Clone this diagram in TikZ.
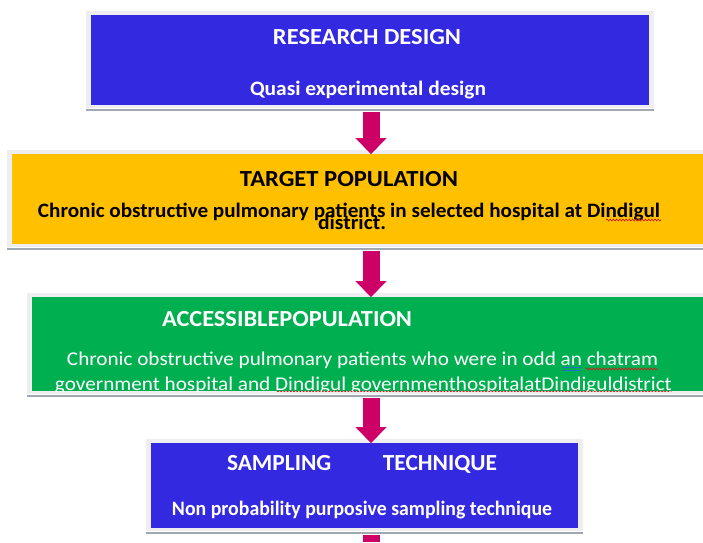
\documentclass[tikz,border=0pt]{standalone}
\usepackage{fontspec}
\setmainfont{Carlito}
\usetikzlibrary{arrows.meta,backgrounds,decorations.pathmorphing}
\definecolor{deepblue}{RGB}{51,41,224}
\definecolor{amber}{RGB}{255,192,0}
\definecolor{leaf}{RGB}{0,176,80}
\definecolor{berry}{RGB}{204,0,102}
\definecolor{framegray}{RGB}{238,238,240}
\definecolor{shadowgray}{RGB}{160,168,178}
\definecolor{spellred}{RGB}{210,30,30}
\definecolor{grammarblue}{RGB}{40,110,200}
% squeeze or stretch a line of text to a given width, keeping its height
\newcommand{\fitw}[2]{\resizebox{#1}{\height}{#2}}

\begin{document}
\begin{tikzpicture}[x=1pt,y=-1pt,
  panel/.style={draw=none, inner sep=0pt, outer sep=0pt},
  lbl/.style={inner sep=0pt, anchor=base},
  headfont/.style={font=\bfseries\fontsize{23}{26}\selectfont},
  bodyfont/.style={font=\bfseries\fontsize{20.5}{24}\selectfont},
  plainfont/.style={font=\fontsize{19.5}{23}\selectfont},
  flow/.style={draw=berry, line width=17pt,
    -{Triangle[width=31pt,length=16pt,line width=0.1pt]}},
  tailflow/.style={draw=berry, line width=17pt},
  spell/.style={draw=spellred, line width=0.7pt, decorate,
    decoration={snake, segment length=3.2pt, amplitude=0.9pt}},
]
\useasboundingbox (0,0) rectangle (703,542);

% coloured panels
\node[panel, fill=deepblue, minimum width=558pt, minimum height=90pt] (rd) at (370,60) {};
\node[panel, fill=amber, minimum width=716pt, minimum height=90pt] (tp) at (370,199) {};
\node[panel, fill=leaf, minimum width=676pt, minimum height=94pt] (ap) at (370,344) {};
\node[panel, fill=deepblue, minimum width=427pt, minimum height=85pt] (st) at (364.5,485.5) {};

% light frame and grey bottom edge behind each panel
\begin{scope}[on background layer]
  \foreach \b in {rd,tp,ap,st}{
    \fill[framegray] ([shift={(-5,-4)}]\b.north west) rectangle ([shift={(5,3)}]\b.south east);
    \draw[shadowgray, line width=2.5pt] ([shift={(-5,5)}]\b.south west) -- ([shift={(5,5)}]\b.south east);
  }
\end{scope}

% research design
\node[lbl, headfont, text=white] (rdT) at (367,44) {\fitw{188pt}{RESEARCH DESIGN}};
\node[lbl, bodyfont, text=white] (rdB) at (368,95) {\fitw{236pt}{Quasi experimental design}};

% target population
\node[lbl, headfont, text=black] (tpT) at (349,186) {\fitw{218pt}{TARGET POPULATION}};
\node[lbl, bodyfont, text=black] (tpB) at (349,217)
  {\fitw{622pt}{Chronic obstructive pulmonary patients in selected hospital at Dindigul}};
\node[lbl, bodyfont, text=black] (tpC) at (352,229) {\fitw{68pt}{district.}};
\draw[spell] (606,220) -- (661,220);

% accessible population (second line runs past the lower edge)
\node[lbl, headfont, text=white] (apT) at (287,326) {\fitw{250pt}{ACCESSIBLEPOPULATION}};
\begin{scope}
  \clip (ap.north west) rectangle (ap.south east);
  \node[lbl, plainfont, text=white] (apB1) at (362.5,365)
    {\fitw{591pt}{Chronic obstructive pulmonary patients who were in odd an chatram}};
  \node[lbl, plainfont, text=white] (apB2) at (363.5,390)
    {\fitw{617pt}{government hospital and Dindigul governmenthospitalatDindiguldistrict}};
  \draw[spell] (586,369) -- (658,369);
  \draw[grammarblue, line width=0.8pt] (562,367.5) -- (581,367.5) (562,370) -- (581,370);
  \draw[spell] (277,392) -- (672,392);
\end{scope}

% sampling technique
\node[lbl, headfont, text=white] (stT) at (362,470) {\fitw{270pt}{SAMPLING\hspace*{2.2em}TECHNIQUE}};
\node[lbl, bodyfont, text=white] (stB) at (362,515)
  {\fitw{380pt}{Non probability purposive sampling technique}};

% connectors
\coordinate (ax) at (371,0);
\coordinate (tail) at (371,542);
\draw[flow, shorten <=7pt] (rd.south -| ax) -- (tp.north -| ax);
\draw[flow, shorten <=7pt] (tp.south -| ax) -- (ap.north -| ax);
\draw[flow, shorten <=7pt] (ap.south -| ax) -- (st.north -| ax);
\draw[tailflow, shorten <=7pt] (st.south -| ax) -- (tail);
\end{tikzpicture}
\end{document}
